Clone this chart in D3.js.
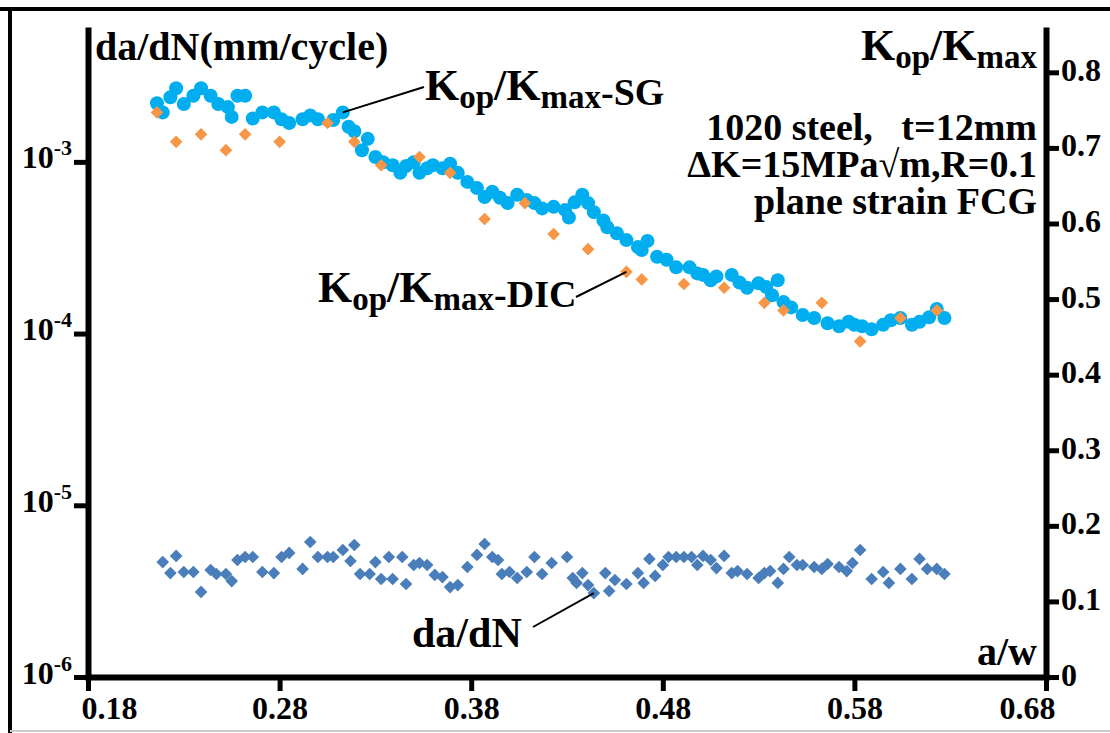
<!DOCTYPE html>
<html>
<head>
<meta charset="utf-8">
<title>Kop/Kmax and da/dN vs a/w</title>
<script src="https://cdn.jsdelivr.net/npm/d3@7"></script>
<style>
  body { margin: 0; background: #fff; }
  text { font-family: "Liberation Serif", "Times New Roman", serif; font-weight: bold; fill: #000; }
</style>
</head>
<body>
<script>
// tick values
var xTicks = [0.18, 0.28, 0.38, 0.48, 0.58, 0.68];
var rightTicks = [0, 0.1, 0.2, 0.3, 0.4, 0.5, 0.6, 0.7, 0.8];
var leftTicks = [1e-6, 1e-5, 1e-4, 1e-3];
var leftExp = ["-6", "-5", "-4", "-3"];

// Kop/Kmax from strain gauge (circles)
var sgAw = [0.216,0.219,0.223,0.226,0.230,0.235,0.239,0.244,0.248,0.253,0.255,0.258,0.262,0.266,0.271,0.277,0.281,0.285,0.292,0.296,
  0.300,0.308,0.313,0.316,0.319,0.323,0.326,0.330,0.334,0.339,0.343,0.346,0.350,0.353,0.357,0.360,0.365,0.369,0.373,0.378,
  0.383,0.387,0.391,0.395,0.399,0.404,0.409,0.413,0.417,0.423,0.429,0.431,0.434,0.438,0.441,0.444,0.449,0.451,0.456,0.461,
  0.467,0.469,0.472,0.477,0.482,0.487,0.494,0.498,0.501,0.505,0.508,0.516,0.520,0.524,0.530,0.534,0.537,0.540,0.543,0.547,
  0.553,0.559,0.566,0.572,0.577,0.580,0.584,0.589,0.595,0.599,0.604,0.610,0.614,0.619,0.623,0.627];
var sgK = [0.759,0.747,0.767,0.779,0.758,0.769,0.779,0.769,0.758,0.754,0.741,0.769,0.769,0.739,0.747,0.747,0.738,0.733,0.738,0.743,
  0.738,0.737,0.747,0.728,0.722,0.697,0.712,0.688,0.681,0.677,0.667,0.676,0.681,0.667,0.673,0.677,0.673,0.679,0.667,0.655,
  0.647,0.635,0.642,0.634,0.627,0.638,0.631,0.627,0.620,0.622,0.618,0.608,0.628,0.638,0.627,0.615,0.604,0.595,0.587,0.578,
  0.569,0.565,0.577,0.556,0.552,0.542,0.542,0.534,0.532,0.525,0.530,0.532,0.522,0.515,0.521,0.516,0.505,0.525,0.496,0.489,
  0.479,0.475,0.468,0.464,0.470,0.466,0.464,0.460,0.466,0.472,0.475,0.466,0.470,0.476,0.487,0.475];

// Kop/Kmax from DIC (orange diamonds)
var dicAw = [0.216,0.226,0.239,0.252,0.262,0.280,0.305,0.319,0.333,0.353,0.369,0.387,0.408,0.423,0.441,0.461,0.469,0.491,0.512,0.533,
  0.543,0.563,0.583,0.604,0.623];
var dicK = [0.747,0.708,0.718,0.697,0.718,0.708,0.733,0.708,0.677,0.688,0.667,0.606,0.627,0.586,0.566,0.536,0.526,0.520,0.515,0.495,
  0.485,0.495,0.444,0.475,0.485];

// da/dN (mm/cycle), blue diamonds
var dadnAw = [0.219,0.223,0.226,0.230,0.235,0.239,0.244,0.247,0.252,0.255,0.258,0.262,0.266,0.271,0.277,0.281,0.285,0.292,0.296,0.300,
  0.305,0.308,0.313,0.317,0.319,0.322,0.327,0.330,0.333,0.337,0.339,0.344,0.346,0.350,0.353,0.357,0.361,0.365,0.369,0.373,
  0.378,0.383,0.387,0.391,0.394,0.396,0.400,0.404,0.409,0.413,0.417,0.422,0.430,0.433,0.435,0.438,0.441,0.444,0.450,0.452,
  0.455,0.461,0.467,0.470,0.473,0.476,0.480,0.483,0.487,0.491,0.495,0.498,0.501,0.505,0.508,0.512,0.516,0.519,0.524,0.530,
  0.533,0.536,0.540,0.543,0.546,0.550,0.553,0.559,0.563,0.566,0.572,0.576,0.579,0.583,0.589,0.595,0.598,0.604,0.610,0.614,
  0.618,0.623,0.627];
var dadnRate = [4.67,4.03,5.07,4.09,4.09,3.13,4.20,3.98,3.98,3.62,4.80,5.00,5.00,4.09,4.03,5.00,5.28,4.26,6.11,5.00,
  5.00,5.00,5.49,4.74,5.87,3.98,3.98,4.67,3.72,5.00,3.72,5.00,3.48,4.49,4.61,4.49,3.93,3.82,3.34,3.43,
  4.37,5.14,5.95,5.00,4.80,3.98,4.09,3.77,4.09,5.00,3.98,4.61,5.00,3.77,3.53,4.03,3.43,3.08,4.03,3.17,
  3.67,3.48,4.03,3.53,4.87,3.88,4.49,5.00,5.00,5.00,5.00,4.49,5.07,4.80,4.31,5.07,4.03,4.14,3.98,3.77,
  4.03,4.14,3.53,4.26,5.00,4.49,4.49,4.37,4.26,4.55,4.37,4.14,4.61,5.49,3.72,4.09,3.53,4.26,3.72,4.87,
  4.26,4.26,3.98].map(function (v) { return v * 1e-6; });

var width = 1110, height = 733;
var plotL = 88, plotR = 1046, plotT = 30, plotB = 677;

var svg = d3.select("body").append("svg")
    .attr("width", width)
    .attr("height", height);

// frame around the figure
svg.append("line").attr("x1", 0).attr("x2", width).attr("y1", 9).attr("y2", 9)
    .attr("stroke", "#000").attr("stroke-width", 4);
svg.append("line").attr("x1", 10).attr("x2", 10).attr("y1", 7).attr("y2", height)
    .attr("stroke", "#000").attr("stroke-width", 4);
svg.append("line").attr("x1", 10).attr("x2", width).attr("y1", 731).attr("y2", 731)
    .attr("stroke", "#ccc").attr("stroke-width", 2);

var x = d3.scaleLinear().domain([0.18, 0.68]).range([plotL, plotR]);
var yR = d3.scaleLinear().domain([0, 0.856]).range([plotB, plotT]);
var yL = d3.scaleLog().domain([1e-6, Math.pow(10, -2.232)]).range([plotB, plotT]);

function styleAxis(g) {
  g.select(".domain").attr("stroke", "#000").attr("stroke-width", 6).attr("stroke-linecap", "square");
  g.selectAll(".tick line").attr("stroke", "#000").attr("stroke-width", 5);
  g.selectAll(".tick text").attr("fill", "#000").attr("font-size", 32)
    .attr("font-family", "Liberation Serif").attr("font-weight", "bold");
}

// bottom axis
var gx = svg.append("g").attr("transform", "translate(0," + plotB + ")")
    .call(d3.axisBottom(x).tickValues(xTicks).tickSize(14).tickSizeOuter(0).tickFormat(d3.format(".2f")));
styleAxis(gx);
gx.selectAll(".tick text").attr("y", 18).attr("dy", "0.75em")
    .attr("dx", function (d, i) { return i === 0 ? 21 : (i === xTicks.length - 1 ? -19 : 0); });

// right axis
var gr = svg.append("g").attr("transform", "translate(" + plotR + ",0)")
    .call(d3.axisRight(yR).tickValues(rightTicks).tickSize(13).tickSizeOuter(0)
      .tickFormat(function (d) { return d === 0 ? "0" : d3.format(".1f")(d); }));
styleAxis(gr);
gr.selectAll(".tick text").attr("x", 15).attr("dy", "0.25em");

// left axis (log), labels as 10 with superscript exponent
var gl = svg.append("g").attr("transform", "translate(" + plotL + ",0)")
    .call(d3.axisLeft(yL).tickValues(leftTicks).tickSize(14).tickSizeOuter(0).tickFormat(function () { return ""; }));
styleAxis(gl);
gl.selectAll(".tick text").remove();
gl.selectAll(".tick").each(function (d, i) {
  var t = d3.select(this).append("text")
      .attr("x", -16).attr("y", 6).attr("text-anchor", "end").attr("font-size", 32);
  t.append("tspan").text("10");
  t.append("tspan").attr("font-size", 22).attr("dy", -13).text(leftExp[i]);
});

// data marks
var diamondPath = d3.symbol().type(d3.symbolSquare).size(80);

svg.append("g").selectAll("path")
    .data(dadnAw.map(function (a, i) { return [a, dadnRate[i]]; }))
    .enter().append("path")
    .attr("d", diamondPath)
    .attr("transform", function (d) { return "translate(" + x(d[0]) + "," + yL(d[1]) + ") rotate(45)"; })
    .attr("fill", "#4a7ebb");

svg.append("g").selectAll("circle")
    .data(sgAw.map(function (a, i) { return [a, sgK[i]]; }))
    .enter().append("circle")
    .attr("cx", function (d) { return x(d[0]); })
    .attr("cy", function (d) { return yR(d[1]); })
    .attr("r", 7)
    .attr("fill", "#00aeef");

svg.append("g").selectAll("path")
    .data(dicAw.map(function (a, i) { return [a, dicK[i]]; }))
    .enter().append("path")
    .attr("d", diamondPath)
    .attr("transform", function (d) { return "translate(" + x(d[0]) + "," + yR(d[1]) + ") rotate(45)"; })
    .attr("fill", "#f79646");

// writes K with subscripts: Kop/Kmax + suffix
function kText(sel, big, small, suffix) {
  var off = 8;
  sel.append("tspan").text("K");
  sel.append("tspan").attr("font-size", small).attr("dy", off).text("op");
  sel.append("tspan").attr("dy", -off).text("/K");
  sel.append("tspan").attr("font-size", small).attr("dy", off).text("max");
  if (suffix) sel.append("tspan").attr("font-size", big - 6).attr("dy", -3).text(suffix);
}

// axis titles
svg.append("text").attr("x", 95).attr("y", 60).attr("font-size", 40).text("da/dN(mm/cycle)");
kText(svg.append("text").attr("x", 1037).attr("y", 60).attr("font-size", 44).attr("text-anchor", "end"), 44, 33);
svg.append("text").attr("x", 1037).attr("y", 665).attr("font-size", 40).attr("text-anchor", "end").text("a/w");

// info block
var info = ["1020 steel,\u00a0\u00a0\u00a0t=12mm", "\u0394K=15MPa\u221am,R=0.1", "plane strain FCG"];
svg.append("g").selectAll("text").data(info).enter().append("text")
    .attr("x", 1037).attr("y", function (d, i) { return 140 + i * 37; })
    .attr("text-anchor", "end").attr("font-size", 38)
    .text(function (d) { return d; });

// annotations
function leader(a, v, scale, tx, ty) {
  svg.append("line")
      .attr("x1", x(a)).attr("y1", scale(v))
      .attr("x2", tx).attr("y2", ty)
      .attr("stroke", "#000").attr("stroke-width", 2);
}
leader(0.313, 0.747, yR, 424, 87);
kText(svg.append("text").attr("x", 425).attr("y", 100).attr("font-size", 44), 44, 33, "-SG");

leader(0.461, 0.536, yR, 576, 297);
kText(svg.append("text").attr("x", 318).attr("y", 302).attr("font-size", 44), 44, 33, "-DIC");

leader(0.444, 3.08e-6, yL, 533, 627);
svg.append("text").attr("x", 412).attr("y", 647).attr("font-size", 42).text("da/dN");
</script>
</body>
</html>
